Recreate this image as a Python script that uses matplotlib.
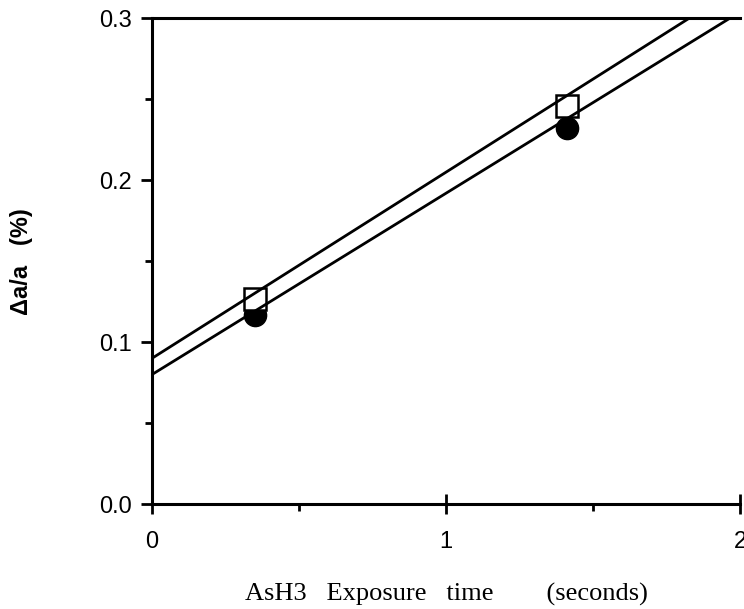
import matplotlib
matplotlib.use("Agg")
import matplotlib.pyplot as plt
import numpy as np

# Data
time_s = [0.35, 1.41]
square_vals = [0.127, 0.246]
circle_vals = [0.117, 0.232]
# linear fits: (intercept, slope)
fit_square = (0.090, 0.115)
fit_circle = (0.080, 0.112)

xticks = [0, 1, 2]
yticks = [0.0, 0.1, 0.2, 0.3]
ytick_labels = ["0.0", "0.1", "0.2", "0.3"]

fig = plt.figure(figsize=(7.44, 6.09), dpi=100)
ax = fig.add_axes([0.204, 0.172, 0.791, 0.798])

xx = np.array([0.0, 2.0])
for b, m in (fit_square, fit_circle):
    ax.plot(xx, b + m * xx, color="black", lw=2.0, zorder=5, clip_on=True)

ax.plot(time_s, circle_vals, "o", color="black", ms=16, zorder=3)
ax.plot(time_s, square_vals, "s", mfc="white", mec="black", mew=1.8, ms=16, zorder=4)

ax.set_xlim(0, 2)
ax.set_ylim(0, 0.3)

ax.spines["right"].set_visible(False)
for s in ("left", "bottom", "top"):
    ax.spines[s].set_linewidth(2.2)

ax.set_xticks(xticks)
ax.set_xticklabels([str(t) for t in xticks])
ax.set_xticks([0.5, 1.5], minor=True)
ax.set_yticks(yticks)
ax.set_yticklabels(ytick_labels)
ax.set_yticks([0.05, 0.15, 0.25], minor=True)

ax.tick_params(axis="y", which="major", direction="out", length=8, width=2, pad=6,
               labelsize=17, labelfontfamily="Liberation Sans")
ax.tick_params(axis="y", which="minor", direction="out", length=5, width=2)
ax.tick_params(axis="x", which="major", direction="inout", length=14, width=2, pad=12,
               labelsize=17, labelfontfamily="Liberation Sans")
ax.tick_params(axis="x", which="minor", direction="out", length=5, width=2)

ax.set_xlabel("AsH3   Exposure   time        (seconds)", fontsize=19,
              family="Liberation Serif", labelpad=22)
ax.set_ylabel("Δa/a   (%)", fontsize=17, family="Liberation Sans",
              fontweight="bold", labelpad=48)

fig.savefig("out.png", dpi=100)
